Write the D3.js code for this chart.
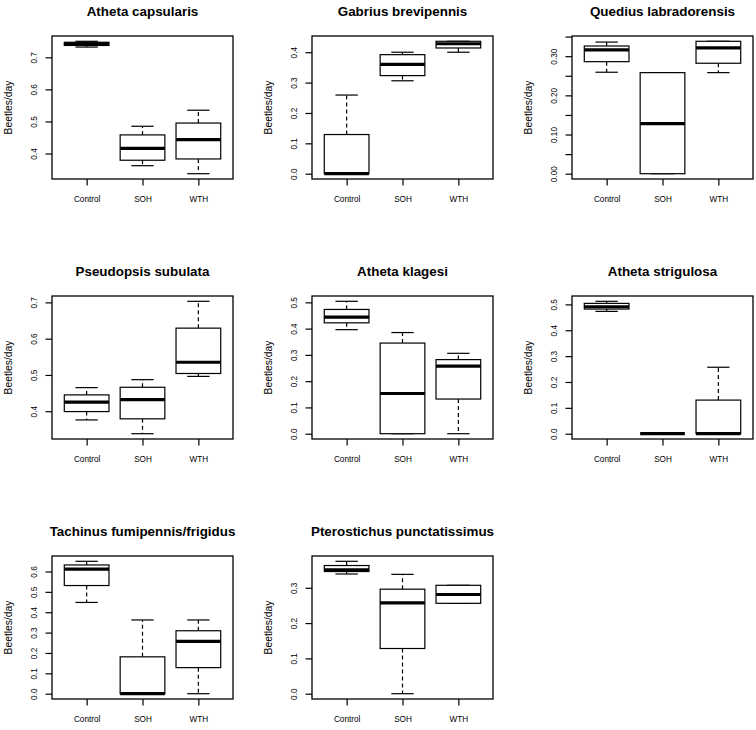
<!DOCTYPE html>
<html lang="en">
  <head>
    <meta charset="UTF-8">
    <title>Beetles per day by harvest treatment</title>
    <style>
      body { margin: 0; background: #fff; }
      text { font-family: "Liberation Sans", Arial, Helvetica, sans-serif; fill: #000; }
    </style>
  </head>
  <body>
    <div id="chart-container"></div>
    <script src="https://d3js.org/d3.v7.min.js"></script>
    <script>
      // treatments along the x axis
      const groups = ["Control", "SOH", "WTH"];

      const titles = [
        "Atheta capsularis", "Gabrius brevipennis", "Quedius labradorensis",
        "Pseudopsis subulata", "Atheta klagesi", "Atheta strigulosa",
        "Tachinus fumipennis/frigidus", "Pterostichus punctatissimus"
      ];

      // box stats for each group: [min, q1, median, q3, max]
      const athetaCapsularis = [[0.732, 0.737, 0.742, 0.747, 0.750], [0.362, 0.379, 0.416, 0.458, 0.485], [0.337, 0.383, 0.443, 0.495, 0.535]];
      const gabriusBrevipennis = [[0, 0, 0, 0.129, 0.259], [0.306, 0.323, 0.360, 0.392, 0.400], [0.400, 0.414, 0.428, 0.436, 0.436]];
      const quediusLabradorensis = [[0.259, 0.286, 0.316, 0.326, 0.336], [0, 0, 0.128, 0.258, 0.258], [0.258, 0.282, 0.321, 0.338, 0.338]];
      const pseudopsisSubulata = [[0.376, 0.399, 0.425, 0.445, 0.465], [0.338, 0.379, 0.432, 0.466, 0.487], [0.496, 0.504, 0.535, 0.629, 0.703]];
      const athetaKlagesi = [[0.396, 0.422, 0.444, 0.473, 0.504], [0, 0, 0.153, 0.345, 0.385], [0, 0.132, 0.257, 0.282, 0.306]];
      const athetaStrigulosa = [[0.473, 0.482, 0.491, 0.504, 0.512], [0, 0, 0, 0, 0], [0, 0, 0, 0.130, 0.257]];
      const tachinusFumipennis = [[0.448, 0.531, 0.612, 0.632, 0.650], [0, 0, 0, 0.181, 0.362], [0, 0.128, 0.257, 0.309, 0.362]];
      const pterostichusPunctatissimus = [[0.339, 0.346, 0.351, 0.363, 0.375], [0, 0.128, 0.257, 0.296, 0.338], [0.256, 0.256, 0.281, 0.307, 0.307]];

      const panels = [athetaCapsularis, gabriusBrevipennis, quediusLabradorensis, pseudopsisSubulata,
        athetaKlagesi, athetaStrigulosa, tachinusFumipennis, pterostichusPunctatissimus];

      // y tick positions and their printed labels (R drops the crowded ones)
      const yTicks = [
        [0.4, 0.5, 0.6, 0.7],
        [0, 0.1, 0.2, 0.3, 0.4],
        [0, 0.05, 0.1, 0.15, 0.2, 0.25, 0.3, 0.35],
        [0.4, 0.5, 0.6, 0.7],
        [0, 0.1, 0.2, 0.3, 0.4, 0.5],
        [0, 0.1, 0.2, 0.3, 0.4, 0.5],
        [0, 0.1, 0.2, 0.3, 0.4, 0.5, 0.6],
        [0, 0.1, 0.2, 0.3]
      ];
      const yTickLabels = [
        ["0.4", "0.5", "0.6", "0.7"],
        ["0.0", "0.1", "0.2", "0.3", "0.4"],
        ["0.00", "", "0.10", "", "0.20", "", "0.30", ""],
        ["0.4", "0.5", "0.6", "0.7"],
        ["0.0", "0.1", "0.2", "0.3", "0.4", "0.5"],
        ["0.0", "0.1", "0.2", "0.3", "0.4", "0.5"],
        ["0.0", "0.1", "0.2", "0.3", "0.4", "0.5", "0.6"],
        ["0.0", "0.1", "0.2", "0.3"]
      ];

      const yLabel = "Beetles/day";

      // each panel sits in a 260px cell, 3 per row
      const cell = 260;
      const margin = { top: 36, left: 52 };
      const width = 181;
      const height = 143;

      const svg = d3.select("#chart-container")
        .append("svg")
        .attr("width", 756)
        .attr("height", 730);

      svg.append("rect").attr("width", 756).attr("height", 730).attr("fill", "#fff");

      panels.forEach(function(stats, i) {
        const col = i % 3, row = Math.floor(i / 3);
        const g = svg.append("g")
          .attr("transform", "translate(" + (col * cell + margin.left) + "," + (row * cell + margin.top) + ")");

        // x like R boxplot: 0.5..3.5 plus 4%
        const x = d3.scaleLinear().domain([0.38, 3.62]).range([0, width]);

        const lo = d3.min(stats, d => d[0]);
        const hi = d3.max(stats, d => d[4]);
        const pad = (hi - lo) * 0.04;
        const y = d3.scaleLinear().domain([lo - pad, hi + pad]).range([height, 0]);

        const half = (x(1.4) - x(1));
        const cap = half / 2;

        // boxes
        stats.forEach(function(s, j) {
          const cx = x(j + 1);
          // whiskers (dashed)
          g.append("line")
            .attr("x1", cx).attr("x2", cx)
            .attr("y1", y(s[3])).attr("y2", y(s[4]))
            .attr("stroke", "#000").attr("stroke-width", 1.2)
            .attr("stroke-dasharray", "4,3");
          g.append("line")
            .attr("x1", cx).attr("x2", cx)
            .attr("y1", y(s[1])).attr("y2", y(s[0]))
            .attr("stroke", "#000").attr("stroke-width", 1.2)
            .attr("stroke-dasharray", "4,3");
          // staples
          [s[0], s[4]].forEach(function(v) {
            g.append("line")
              .attr("x1", cx - cap).attr("x2", cx + cap)
              .attr("y1", y(v)).attr("y2", y(v))
              .attr("stroke", "#000").attr("stroke-width", 1.2);
          });
          // box
          g.append("rect")
            .attr("x", cx - half)
            .attr("y", y(s[3]))
            .attr("width", half * 2)
            .attr("height", Math.max(0, y(s[1]) - y(s[3])))
            .attr("fill", "#fff")
            .attr("stroke", "#000")
            .attr("stroke-width", 1.2);
          // median
          g.append("line")
            .attr("x1", cx - half).attr("x2", cx + half)
            .attr("y1", y(s[2])).attr("y2", y(s[2]))
            .attr("stroke", "#000").attr("stroke-width", 3.2);
        });

        // frame
        g.append("rect")
          .attr("width", width).attr("height", height)
          .attr("fill", "none").attr("stroke", "#000").attr("stroke-width", 1.3);

        // x axis
        const xAxis = g.append("g")
          .attr("transform", "translate(0," + height + ")")
          .call(d3.axisBottom(x).tickValues([1, 2, 3])
            .tickFormat(d => groups[d - 1])
            .tickSize(6.5).tickSizeOuter(0).tickPadding(11));
        xAxis.select(".domain").remove();
        xAxis.selectAll("line").attr("stroke", "#000").attr("stroke-width", 1.2);
        xAxis.selectAll("text")
          .style("font-size", "8.2px")
          .style("fill", "#000");

        // y axis, labels turned parallel to the axis
        const labels = yTickLabels[i];
        const yAxis = g.append("g")
          .call(d3.axisLeft(y).tickValues(yTicks[i])
            .tickFormat((d, k) => labels[k])
            .tickSize(6.5).tickSizeOuter(0));
        yAxis.select(".domain").remove();
        yAxis.selectAll("line").attr("stroke", "#000").attr("stroke-width", 1.2);
        yAxis.selectAll("text")
          .attr("x", 0).attr("dy", 0)
          .attr("text-anchor", "middle")
          .attr("transform", "translate(-15.5,0) rotate(-90)")
          .style("font-size", "8.2px")
          .style("fill", "#000");

        // y label
        g.append("text")
          .attr("transform", "translate(" + (11.5 - margin.left) + "," + (height / 2) + ") rotate(-90)")
          .attr("text-anchor", "middle")
          .style("font-size", "10.3px")
          .text(yLabel);

        // title
        g.append("text")
          .attr("x", width / 2)
          .attr("y", -20)
          .attr("text-anchor", "middle")
          .style("font-size", "13.4px")
          .style("font-weight", "bold")
          .text(titles[i]);
      });
    </script>
  </body>
</html>
